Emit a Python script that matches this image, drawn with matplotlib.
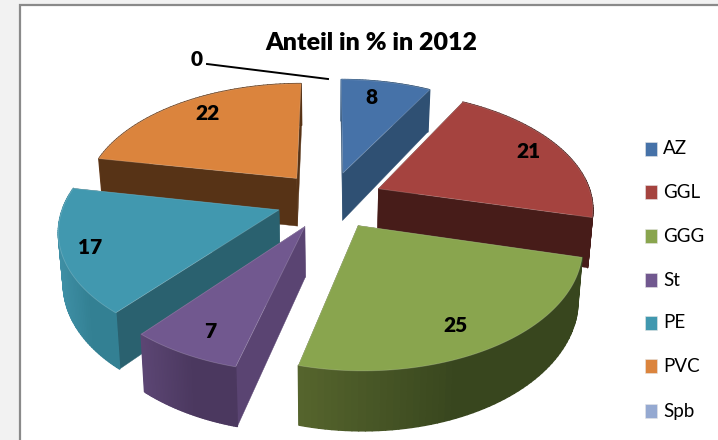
import numpy as np
import matplotlib
matplotlib.use("Agg")
import matplotlib.pyplot as plt
from matplotlib.colors import to_rgb
from matplotlib.patches import Polygon, Rectangle

# Share of each material in 2012, in percent
categories = ["AZ", "GGL", "GGG", "St", "PE", "PVC", "Spb"]
values = [8, 21, 25, 7, 17, 22, 0]

top_colors = ["#4672A8", "#A5433F", "#89A54E", "#71588F", "#4198AF", "#DB843D", "#95A9D1"]
wall_colors = ["#2F5073", "#471C19", "#56652D", "#5A4472", "#2A616F", "#573316", "#64718C"]
rim_light = ["#3A618C", "#5A2623", "#56652D", "#5C4674", "#3F90A6", "#6B4020", "#64718C"]
rim_dark = ["#2F5073", "#471C19", "#38461E", "#4B385F", "#338093", "#573316", "#64718C"]

# Perspective model of the exploded pie, in pixel units of the figure
CX, CY = 330.0, 200.0
RX, RY = 214.0, 115.0
PERSPECTIVE = 0.15
DEPTH = 49.0
TAPER = 0.018
EXPLODE = 0.25

WIDTH, HEIGHT = 718, 440
BODY_FONT = "Lato"


def project(u, v, z=0.0):
    """Map a point of the pie plane (z=0 top, z=1 bottom) to figure pixels."""
    s = 1.0 / (1.0 + PERSPECTIVE * v)
    x = CX + RX * u * s * (1.0 - TAPER * z)
    y = CY - RY * v * s + DEPTH * s * z
    return x, y


def mix(a, b, t):
    return tuple((1 - t) * p + t * q for p, q in zip(to_rgb(a), to_rgb(b)))


fig = plt.figure(figsize=(WIDTH / 100, HEIGHT / 100), dpi=100, facecolor="#F2F2F2")
ax = fig.add_axes([0, 0, 1, 1])
ax.set_xlim(0, WIDTH)
ax.set_ylim(HEIGHT, 0)
ax.axis("off")

# Chart area with its grey frame, running off the right and bottom edges
ax.add_patch(Rectangle((20, 5), WIDTH, HEIGHT, facecolor="white",
                       edgecolor="#8A8A8A", linewidth=1.6, zorder=0))

# Cumulative angles, clockwise from twelve o'clock
total = sum(values)
spans = np.array(values, dtype=float) / total * 360.0
starts = np.concatenate(([0.0], np.cumsum(spans)[:-1]))

# Back slices first so that nearer ones cover them
paint_order = ["PVC", "AZ", "GGL", "PE", "St", "GGG"]
z = 2

for name in paint_order:
    i = categories.index(name)
    a0, a1 = starts[i], starts[i] + spans[i]
    mid = np.radians((a0 + a1) / 2)
    u0, v0 = EXPLODE * np.sin(mid), EXPLODE * np.cos(mid)

    thetas = np.radians(np.linspace(a0, a1, 61))
    us = u0 + np.sin(thetas)
    vs = v0 + np.cos(thetas)
    rim_x = [project(a, b)[0] for a, b in zip(us, vs)]

    walls = []
    # Flat walls along both radial edges
    for t in (thetas[0], thetas[-1]):
        ue, ve = u0 + np.sin(t), v0 + np.cos(t)
        quad = [project(u0, v0), project(ue, ve), project(ue, ve, 1), project(u0, v0, 1)]
        walls.append(((v0 + ve) / 2, quad, to_rgb(wall_colors[i]), 0.3))
    # Curved rim, shaded along its length; each strip overlaps its neighbour slightly
    for k in range(len(thetas) - 1):
        quad = [project(us[k], vs[k]), project(us[k + 1], vs[k + 1]),
                project(us[k + 1], vs[k + 1], 1), project(us[k], vs[k], 1)]
        xmid = (rim_x[k] + rim_x[k + 1]) / 2
        frac = (xmid - min(rim_x)) / (max(rim_x) - min(rim_x))
        walls.append(((vs[k] + vs[k + 1]) / 2, quad,
                      mix(rim_light[i], rim_dark[i], min(1.0, frac * 1.8)), 1.1))

    for _, quad, color, width in sorted(walls, key=lambda w: -w[0]):
        ax.add_patch(Polygon(quad, closed=True, facecolor=color, edgecolor=color,
                             linewidth=width, joinstyle="round", zorder=z))
    top = [project(u0, v0)] + [project(a, b) for a, b in zip(us, vs)]
    ax.add_patch(Polygon(top, closed=True, facecolor=top_colors[i],
                         edgecolor="#FFFFFF30", linewidth=0.6, zorder=z + 1))
    z += 2

# Value labels beside their slices
label_xy = {"AZ": (371, 97), "GGL": (528, 151), "GGG": (455, 326), "St": (210, 331),
            "PE": (90, 248), "PVC": (207, 113), "Spb": (197, 59)}
for name, value in zip(categories, values):
    x, y = label_xy[name]
    ax.text(x, y, str(value), ha="center", va="center", fontsize=15, fontweight="heavy",
            family=BODY_FONT, color="black", zorder=40)

# Leader line for the empty slice
ax.plot([207, 328], [64, 79], color="black", linewidth=1.4, zorder=40)

ax.text(371, 43.5, "Anteil in % in 2012", ha="center", va="center", fontsize=18,
        fontweight="heavy", family=BODY_FONT, color="black", zorder=40)

# Legend column
legend_y = [149, 192, 236, 280, 323, 366, 411]
for name, color, y in zip(categories, top_colors, legend_y):
    ax.add_patch(Rectangle((645, y - 7), 12, 14, facecolor=color, edgecolor="#E6E6E6",
                           linewidth=0.4, zorder=40))
    ax.text(663, y, name, ha="left", va="center", fontsize=13.5, family=BODY_FONT,
            color="black", zorder=40)

fig.savefig("out.png", dpi=100, facecolor=fig.get_facecolor())
